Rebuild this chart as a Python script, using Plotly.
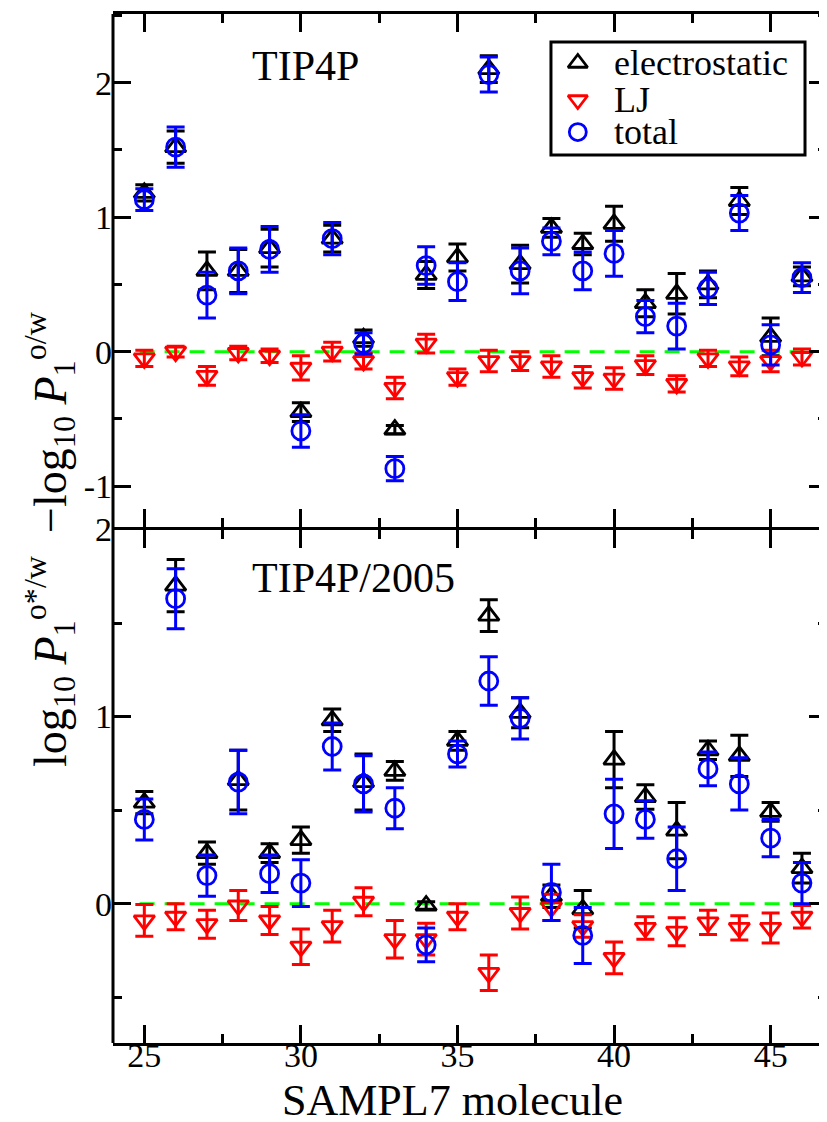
import plotly.graph_objects as go

# ---------------- data ----------------
molecules = list(range(25, 47))

# top panel (TIP4P):  -log10 P1^{o/w}
top_elec = [1.18, 1.52, 0.60, 0.60, 0.77, -0.45, 0.84, 0.10, -0.58, 0.57, 0.70,
            2.10, 0.65, 0.92, 0.80, 0.95, 0.36, 0.43, 0.50, 1.12, 0.11, 0.56]
top_elec_err = [0.06, 0.12, 0.14, 0.16, 0.14, 0.07, 0.10, 0.06, 0.03, 0.10, 0.10,
                0.10, 0.14, 0.07, 0.08, 0.13, 0.10, 0.15, 0.10, 0.10, 0.14, 0.07]
top_lj = [-0.05, 0.00, -0.18, -0.01, -0.03, -0.12, 0.00, -0.07, -0.27, 0.06, -0.19,
          -0.07, -0.07, -0.11, -0.19, -0.20, -0.10, -0.24, -0.05, -0.11, -0.07, -0.04]
top_lj_err = [0.06, 0.04, 0.07, 0.05, 0.05, 0.09, 0.07, 0.06, 0.08, 0.07, 0.06,
              0.08, 0.07, 0.08, 0.08, 0.08, 0.07, 0.06, 0.06, 0.07, 0.08, 0.06]
top_tot = [1.13, 1.52, 0.42, 0.60, 0.76, -0.59, 0.84, 0.06, -0.87, 0.64, 0.52,
           2.06, 0.60, 0.82, 0.60, 0.73, 0.26, 0.19, 0.47, 1.03, 0.05, 0.55]
top_tot_err = [0.08, 0.15, 0.17, 0.17, 0.17, 0.12, 0.12, 0.08, 0.09, 0.14, 0.14,
               0.13, 0.17, 0.10, 0.14, 0.17, 0.12, 0.17, 0.12, 0.13, 0.15, 0.11]

# bottom panel (TIP4P/2005):  log10 P1^{o*/w}
bot_elec = [0.54, 1.70, 0.27, 0.66, 0.27, 0.34, 0.98, 0.65, 0.71, -0.01, 0.87,
            1.54, 1.02, 0.04, -0.03, 0.77, 0.57, 0.39, 0.82, 0.79, 0.49, 0.19]
bot_elec_err = [0.06, 0.14, 0.06, 0.16, 0.05, 0.07, 0.06, 0.15, 0.05, 0.02, 0.05,
                0.085, 0.08, 0.06, 0.10, 0.15, 0.065, 0.15, 0.05, 0.11, 0.05, 0.08]
bot_lj = [-0.09, -0.07, -0.11, -0.01, -0.09, -0.23, -0.12, 0.01, -0.19, -0.19, -0.07,
          -0.37, -0.05, -0.02, -0.12, -0.29, -0.13, -0.15, -0.10, -0.13, -0.13, -0.07]
bot_lj_err = [0.085, 0.07, 0.075, 0.08, 0.075, 0.095, 0.085, 0.075, 0.10, 0.085, 0.07,
              0.095, 0.085, 0.07, 0.06, 0.085, 0.06, 0.075, 0.065, 0.065, 0.08, 0.06]
bot_tot = [0.45, 1.63, 0.15, 0.65, 0.16, 0.11, 0.84, 0.64, 0.51, -0.22, 0.80,
           1.19, 0.99, 0.06, -0.17, 0.48, 0.45, 0.24, 0.72, 0.64, 0.35, 0.11]
bot_tot_err = [0.11, 0.16, 0.11, 0.17, 0.10, 0.125, 0.125, 0.15, 0.11, 0.09, 0.07,
               0.13, 0.11, 0.15, 0.15, 0.185, 0.10, 0.17, 0.09, 0.14, 0.10, 0.11]

ref_line_x = [24.85, 46.4]
ref_line_y = [0.0, 0.0]

series_names = ["electrostatic", "LJ", "total"]
series_symbols = ["triangle-up-open", "triangle-down-open", "circle-open"]
series_colors = ["#000000", "#ff0000", "#0000ff"]

x_ticks = [25, 30, 35, 40, 45]
top_y_ticks = [-1, 0, 1, 2]
top_y_ticktext = ["-1", "0", "1", "2"]
bot_y_ticks = [0, 1, 2]
bot_y_ticktext = ["0", "1", "2"]

FONT = "Liberation Serif, Times New Roman, serif"

fig = go.Figure()

panels = [
    ("x2", "y2", [top_elec, top_lj, top_tot], [top_elec_err, top_lj_err, top_tot_err]),
    ("x", "y", [bot_elec, bot_lj, bot_tot], [bot_elec_err, bot_lj_err, bot_tot_err]),
]
for xa, ya, vals, errs in panels:
    fig.add_trace(go.Scatter(x=ref_line_x, y=ref_line_y, mode="lines", xaxis=xa, yaxis=ya,
                             line=dict(color="#00ff00", width=3, dash="15px,10px"),
                             showlegend=False, hoverinfo="skip"))
    for name, sym, col, v, e in zip(series_names, series_symbols, series_colors, vals, errs):
        fig.add_trace(go.Scatter(
            x=molecules, y=v, mode="markers", name=name, xaxis=xa, yaxis=ya,
            marker=dict(symbol=sym, size=18, color=col, line=dict(color=col, width=2.8)),
            error_y=dict(type="data", array=e, visible=True, color=col, thickness=3, width=9),
            showlegend=False, cliponaxis=False))

# manual legend key symbols (overlay axis in paper-like units)
leg_x = [0.651, 0.651, 0.651]
leg_y = [0.9524, 0.9164, 0.8853]
fig.add_trace(go.Scatter(x=leg_x, y=leg_y, mode="markers", xaxis="x3", yaxis="y3",
                         marker=dict(symbol=series_symbols, size=17, color=series_colors,
                                     line=dict(color=series_colors, width=2.8)),
                         showlegend=False, hoverinfo="skip"))

axis_common = dict(showgrid=False, zeroline=False, ticks="inside", tickwidth=2.5,
                   tickcolor="black", tickfont=dict(family=FONT, size=34, color="black"))

x_common = dict(axis_common, range=[24, 46.8], showline=True, linewidth=3, linecolor="black",
                mirror="ticks", tickvals=x_ticks, ticklen=18,
                minor=dict(dtick=2.5, tick0=25, ticklen=9, tickwidth=2.5, ticks="inside",
                           tickcolor="black", showgrid=False))

y_common = dict(axis_common, showline=False, mirror="ticks", ticklen=18,
                minor=dict(dtick=0.5, tick0=0, ticklen=9, tickwidth=2.5, ticks="inside",
                           tickcolor="black", showgrid=False))

PLOT_H = 1029
split = (1035 - 520) / PLOT_H
gap = 1.5 / PLOT_H

# page body has an 8px margin: figure is placed at (8, 8)
fig.update_layout(
    width=819, height=1114,
    margin=dict(l=105, r=0, t=6, b=79, autoexpand=False),
    paper_bgcolor="white", plot_bgcolor="rgba(0,0,0,0)",
    showlegend=False,
    font=dict(family=FONT, color="black"),
    xaxis=dict(x_common, domain=[0, 1], anchor="y", ticklabelstandoff=-20),
    yaxis=dict(y_common, domain=[0, split - gap], anchor="x", range=[-0.745, 2.0],
               tickvals=bot_y_ticks, ticktext=bot_y_ticktext),
    xaxis2=dict(x_common, domain=[0, 1], anchor="y2", matches="x", showticklabels=False),
    yaxis2=dict(y_common, domain=[split + gap, 1], anchor="x2", range=[-1.3, 2.51],
                tickvals=top_y_ticks, ticktext=top_y_ticktext),
    xaxis3=dict(domain=[0, 1], anchor="y3", range=[0, 1], visible=False, fixedrange=True),
    yaxis3=dict(domain=[0, 1], anchor="x3", range=[0, 1], visible=False, fixedrange=True),
)

# left frame line + legend box
fig.add_shape(type="line", xref="paper", yref="paper", x0=0, x1=0, y0=0, y1=1,
              line=dict(color="black", width=3))
fig.add_shape(type="rect", xref="paper", yref="paper", x0=0.6134, x1=0.9692, y0=0.863, y1=0.9728,
              line=dict(color="black", width=3), fillcolor="rgba(0,0,0,0)")

for name, y in zip(series_names, leg_y):
    fig.add_annotation(text=name, xref="paper", yref="paper", x=0.699, y=y, xanchor="left",
                       yanchor="middle", showarrow=False, font=dict(family=FONT, size=36))

fig.add_annotation(text="TIP4P", xref="paper", yref="paper", x=0.2703, y=0.9495,
                   xanchor="center", yanchor="middle",
                   showarrow=False, font=dict(family=FONT, size=42))
fig.add_annotation(text="TIP4P/2005", xref="paper", yref="paper", x=0.3375, y=0.4519,
                   xanchor="center", yanchor="middle",
                   showarrow=False, font=dict(family=FONT, size=42))
fig.add_annotation(text="SAMPL7 molecule", xref="paper", yref="paper", x=0.476, y=-0.056,
                   xanchor="center", yanchor="middle",
                   showarrow=False, font=dict(family=FONT, size=44))
fig.add_annotation(
    text="log<sub>10</sub> <i>P</i><sub>1</sub><sup>o*/w</sup>  \u2212log<sub>10</sub> <i>P</i><sub>1</sub><sup>o/w</sup>",
    xref="paper", yref="paper", x=-0.088, y=0.49, textangle=-90,
    xanchor="center", yanchor="middle",
    showarrow=False, font=dict(family=FONT, size=46))

fig.write_html("out.html")
